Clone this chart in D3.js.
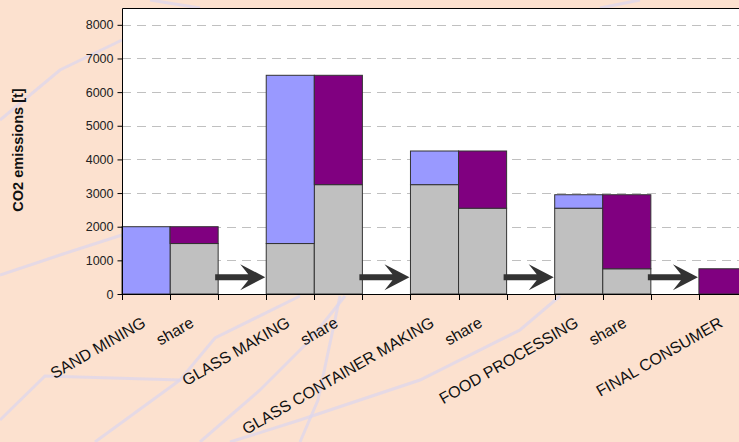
<!DOCTYPE html>
<html>
<head>
<meta charset="utf-8">
<script src="https://cdn.jsdelivr.net/npm/d3@7"></script>
<style>
html, body { margin: 0; padding: 0; background: #fce1cf; }
svg { display: block; font-family: Arial, "Liberation Sans", sans-serif; }
</style>
</head>
<body>
<div id="chart"></div>
<script>
// slots along the x axis, arrows sit in the empty ones
const categories = ["SAND MINING", "share", "", "GLASS MAKING", "share", "",
  "GLASS CONTAINER MAKING", "share", "", "FOOD PROCESSING", "share", "", "FINAL CONSUMER"];
const inherited = [0, 1500, 0, 1500, 3250, 0, 3250, 2550, 0, 2550, 750, 0, 0];   // grey
const added = [2000, 0, 0, 5000, 0, 0, 1000, 0, 0, 400, 0, 0, 0];                // blue
const passedOn = [0, 500, 0, 0, 3250, 0, 0, 1700, 0, 0, 2200, 0, 750];           // purple
const arrowSlots = [2, 5, 8, 11];
const arrowLevel = 500;
const yTicks = [0, 1000, 2000, 3000, 4000, 5000, 6000, 7000, 8000];

const W = 739, H = 442;
const plotL = 122, plotT = 8, plotW = 625, plotB = 294;

const svg = d3.select("#chart").append("svg")
  .attr("width", W).attr("height", H);

// faint background strokes
const bgLines = [
  [[0, 420], [45, 376], [180, 380], [215, 338], [300, 296]],
  [[95, 442], [180, 380]],
  [[200, 442], [260, 390], [310, 340], [345, 296]],
  [[230, 442], [300, 420], [420, 380], [520, 330], [560, 296]],
  [[300, 442], [318, 400], [340, 296]],
  [[0, 275], [60, 255], [122, 235]],
  [[0, 120], [60, 70], [122, 40]],
  [[150, 0], [200, 8]],
  [[600, 8], [640, 0]]
];
svg.append("g").selectAll("path").data(bgLines).join("path")
  .attr("d", d3.line())
  .attr("fill", "none")
  .attr("stroke", "#dcd6ee")
  .attr("stroke-width", 3)
  .attr("opacity", 0.7);

const x = d3.scaleBand().domain(d3.range(categories.length))
  .range([plotL, plotL + plotW]).padding(0);
const y = d3.scaleLinear().domain([0, 8500]).range([plotB, plotT]);

svg.append("rect")
  .attr("x", plotL).attr("y", plotT)
  .attr("width", plotW).attr("height", plotB - plotT)
  .attr("fill", "#fff");

// dashed grid
svg.append("g").selectAll("line").data(yTicks.filter(d => d > 0)).join("line")
  .attr("x1", plotL).attr("x2", plotL + plotW)
  .attr("y1", d => Math.round(y(d)) + 0.5).attr("y2", d => Math.round(y(d)) + 0.5)
  .attr("stroke", "#c0c0c0")
  .attr("stroke-dasharray", "9,6");

const table = categories.map((c, i) => ({ i, grey: inherited[i], blue: added[i], purple: passedOn[i] }));
const stack = d3.stack().keys(["grey", "blue", "purple"])(table);
const colors = { grey: "#c0c0c0", blue: "#9999ff", purple: "#800080" };

svg.append("g").selectAll("g").data(stack).join("g")
  .attr("fill", d => colors[d.key])
  .selectAll("rect").data(d => d.filter(s => s[1] > s[0])).join("rect")
  .attr("x", d => x(d.data.i))
  .attr("width", x.bandwidth())
  .attr("y", d => y(d[1]))
  .attr("height", d => y(d[0]) - y(d[1]))
  .attr("stroke", "#333")
  .attr("stroke-width", 1);

// arrows between the stages
const arrow = svg.append("g").attr("fill", "#333");
arrowSlots.forEach(s => {
  const x0 = x(s) - 3, x1 = x(s) + x.bandwidth() - 1, cy = y(arrowLevel);
  const hb = x1 - 25;
  arrow.append("path").attr("d",
    `M${x0},${cy - 3}H${hb + 8}L${hb},${cy - 13}L${x1},${cy}L${hb},${cy + 13}L${hb + 8},${cy + 3}H${x0}Z`);
});

// frame: top and left border
svg.append("path")
  .attr("d", `M${plotL + 0.5},${plotB}V${plotT + 0.5}H${plotL + plotW}`)
  .attr("fill", "none").attr("stroke", "#000");

// y axis
const yAxis = svg.append("g")
  .attr("transform", `translate(${plotL + 0.5},0)`)
  .call(d3.axisLeft(y).tickValues(yTicks).tickFormat(d3.format("d")).tickSize(5).tickPadding(4));
yAxis.select(".domain").remove();
yAxis.selectAll("line").attr("stroke", "#000");
yAxis.selectAll("text").attr("font-size", 12.5).attr("fill", "#222")
  .attr("font-family", "Arial, 'Liberation Sans', sans-serif");

// x axis line and slot ticks
const xb = d3.range(categories.length + 1).map(i => plotL + i * x.bandwidth());
svg.append("line")
  .attr("x1", plotL).attr("x2", plotL + plotW)
  .attr("y1", plotB + 0.5).attr("y2", plotB + 0.5)
  .attr("stroke", "#000");
svg.append("g").selectAll("line").data(xb).join("line")
  .attr("x1", d => Math.round(d) + 0.5).attr("x2", d => Math.round(d) + 0.5)
  .attr("y1", plotB).attr("y2", plotB + 6)
  .attr("stroke", "#000");

// rotated category labels
svg.append("g").selectAll("text").data(table.filter(d => categories[d.i])).join("text")
  .attr("transform", d => `translate(${x(d.i) + x.bandwidth() / 2 - 2},${plotB + 27}) rotate(-30)`)
  .attr("text-anchor", "end")
  .attr("dy", "0.35em")
  .attr("font-size", 16)
  .attr("fill", "#111")
  .text(d => categories[d.i]);

svg.append("text")
  .attr("transform", `translate(23,150) rotate(-90)`)
  .attr("text-anchor", "middle")
  .attr("font-size", 14.5)
  .attr("font-weight", "bold")
  .attr("fill", "#111")
  .text("CO2 emissions [t]");
</script>
</body>
</html>
